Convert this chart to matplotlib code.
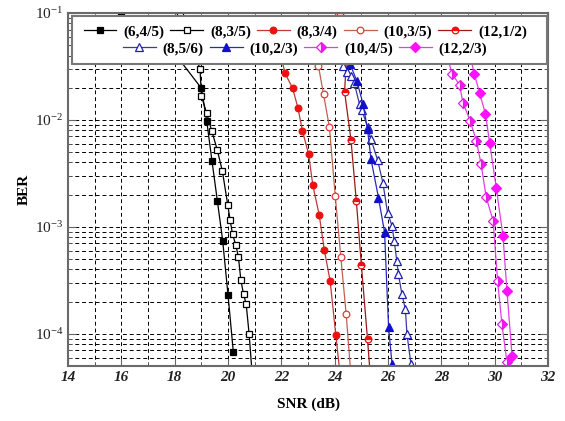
import matplotlib
matplotlib.use("Agg")
import matplotlib.pyplot as plt
import matplotlib.ticker as ticker
from matplotlib.patches import Rectangle

plt.rcParams['font.family'] = ['Liberation Serif', 'DejaVu Serif']
plt.rcParams['mathtext.fontset'] = 'custom'
plt.rcParams['mathtext.rm'] = 'Liberation Serif:italic'
plt.rcParams['mathtext.it'] = 'Liberation Serif:italic'

# SNR (dB) / BER (points above the legend are hidden)
snr_6_45 = [16.0, 17.9, 19.0, 19.2, 19.4, 19.6, 19.8, 20.0, 20.2]
ber_6_45 = [0.1, 0.045, 0.0198, 0.0098, 0.0041, 0.00175, 0.00074, 0.00023, 0.000067]

snr_8_35 = [18.2, 18.95, 19.0, 19.2, 19.39, 19.6, 19.79, 19.99, 20.08, 20.17, 20.29,
            20.39, 20.48, 20.58, 20.68, 20.79, 20.95]
ber_8_35 = [0.1, 0.03, 0.0168, 0.0115, 0.0079, 0.0052, 0.0033, 0.0016, 0.00115, 0.00085,
            0.00068, 0.00052, 0.00032, 0.000235, 0.00019, 0.0001, 0.00003]

snr_8_34 = [21.8, 22.14, 22.42, 22.62, 22.79, 23.02, 23.18, 23.42, 23.61, 23.83, 24.04, 24.3]
ber_8_34 = [0.06, 0.0273, 0.0198, 0.013, 0.0079, 0.0048, 0.00245, 0.00129, 0.00061,
            0.00031, 0.000098, 0.000025]

snr_10_35 = [23.2, 23.39, 23.58, 23.8, 24.02, 24.23, 24.43, 24.65]
ber_10_35 = [0.06, 0.032, 0.0174, 0.0086, 0.00195, 0.00052, 0.000153, 0.00003]

snr_12_12 = [24.2, 24.45, 24.37, 24.61, 24.81, 25.0, 25.23, 25.4]
ber_12_12 = [0.1, 0.04, 0.0184, 0.0065, 0.00175, 0.00044, 0.000089, 0.000025]

snr_8_56 = [24.3, 24.45, 24.61, 24.73, 24.93, 25.02, 25.23, 25.36, 25.61, 25.81, 25.98,
            26.15, 26.23, 26.33, 26.39, 26.52, 26.65, 26.71, 26.86]
ber_8_56 = [0.032, 0.028, 0.0258, 0.0223, 0.014, 0.0123, 0.0086, 0.0066, 0.0042, 0.00256,
            0.00136, 0.00102, 0.00074, 0.00048, 0.00036, 0.000235, 0.00017, 0.000099, 0.000052]

snr_10_23 = [24.3, 24.58, 24.83, 25.06, 25.23, 25.36, 25.64, 25.87, 26.02, 26.15]
ber_10_23 = [0.06, 0.0332, 0.0231, 0.0142, 0.0082, 0.0043, 0.00188, 0.00089, 0.000115, 0.000052]

snr_10_45 = [28.1, 28.4, 28.68, 28.81, 29.08, 29.31, 29.49, 29.68, 29.94, 30.11, 30.27, 30.46]
ber_10_45 = [0.05, 0.0271, 0.0212, 0.0145, 0.0098, 0.0064, 0.00386, 0.0019, 0.00114,
             0.00031, 0.000123, 0.000054]

snr_12_23 = [29.0, 29.23, 29.43, 29.65, 29.81, 30.06, 30.31, 30.46, 30.65]
ber_12_23 = [0.05, 0.0271, 0.018, 0.01146, 0.0061, 0.0023, 0.00082, 0.00025, 0.000062]

fig = plt.figure(figsize=(5.65, 4.21), dpi=100)
ax = fig.add_axes([0.1204, 0.1306, 0.8496, 0.8386])

kw = dict(lw=0.9, ms=4.8, mew=0.9)
tri = dict(lw=0.9, ms=5.6, mew=0.9)
dia = dict(lw=0.9, ms=5.4, mew=0.9)
h = []
h += ax.semilogy(snr_6_45, ber_6_45, '-s', color='k', mfc='k', mec='k', label='(6,4/5)', **kw)
h += ax.semilogy(snr_8_35, ber_8_35, '-s', color='k', mfc='white', mec='k', label='(8,3/5)', **kw)
h += ax.semilogy(snr_8_34, ber_8_34, '-o', color='#c03838', mfc='#ee1010', mec='#ee1010',
                 label='(8,3/4)', **kw)
h += ax.semilogy(snr_10_35, ber_10_35, '-o', color='#c06050', mfc='white', mec='#e03a3a',
                 label='(10,3/5)', **kw)
h += ax.semilogy(snr_12_12, ber_12_12, '-o', color='#a01818', mfc='#ee1010', mec='#ee1010',
                 fillstyle='top', markerfacecoloralt='white', label='(12,1/2)', **kw)
h += ax.semilogy(snr_8_56, ber_8_56, '-^', color='#3a3aa0', mfc='white', mec='#2020b0',
                 label='(8,5/6)', **tri)
h += ax.semilogy(snr_10_23, ber_10_23, '-^', color='#2828c0', mfc='#1010c8', mec='#1010c8',
                 label='(10,2/3)', **tri)
h += ax.semilogy(snr_10_45, ber_10_45, '-D', color='#e040e0', mfc='#ff10ff', mec='#e020e0',
                 fillstyle='right', markerfacecoloralt='white', label='(10,4/5)', **dia)
h += ax.semilogy(snr_12_23, ber_12_23, '-D', color='#e040e0', mfc='#ff10ff', mec='#ff10ff',
                 label='(12,2/3)', **dia)

ax.set_xlim(14, 32)
ax.set_ylim(5e-5, 1e-1)
ax.xaxis.set_major_locator(ticker.MultipleLocator(2))
ax.xaxis.set_minor_locator(ticker.MultipleLocator(1))
ax.yaxis.set_major_locator(ticker.LogLocator(base=10, numticks=10))
ax.yaxis.set_minor_locator(ticker.LogLocator(base=10, subs=range(2, 10), numticks=20))
ax.yaxis.set_minor_formatter(ticker.NullFormatter())
ax.grid(which='both', color='k', ls=(0, (4, 3)), lw=0.7)
ax.tick_params(which='both', direction='in', top=True, right=True, colors='#666666',
               labelcolor='#222222', labelsize=11)
ax.tick_params(which='major', length=6)
ax.tick_params(which='minor', length=3)
for lab in ax.get_xticklabels():
    lab.set_style('italic')
    lab.set_weight('bold')
for s in ax.spines.values():
    s.set_color('#6a6a6a')
    s.set_linewidth(1.5)

ax.set_xlabel('SNR (dB)', fontsize=11, fontweight='bold', labelpad=10)
ax.set_ylabel('BER', fontsize=11, fontweight='bold', labelpad=3)

lkw = dict(frameon=False, loc='center', handlelength=2.15, handletextpad=0.45,
           columnspacing=0.4, borderpad=0.1, borderaxespad=0,
           prop={'family': 'Liberation Serif', 'weight': 'bold', 'size': 11})
leg1 = ax.legend(handles=h[:5], ncol=5, bbox_to_anchor=(0.494, 0.946), **lkw)
ax.add_artist(leg1)
leg2 = ax.legend(handles=h[5:], ncol=4, bbox_to_anchor=(0.494, 0.898), **lkw)
ax.add_patch(Rectangle((0.008, 0.8555), 0.99, 0.136, transform=ax.transAxes,
                       facecolor='white', edgecolor='#777777', lw=1.5, zorder=4.5))

fig.savefig('out.png', dpi=100)
